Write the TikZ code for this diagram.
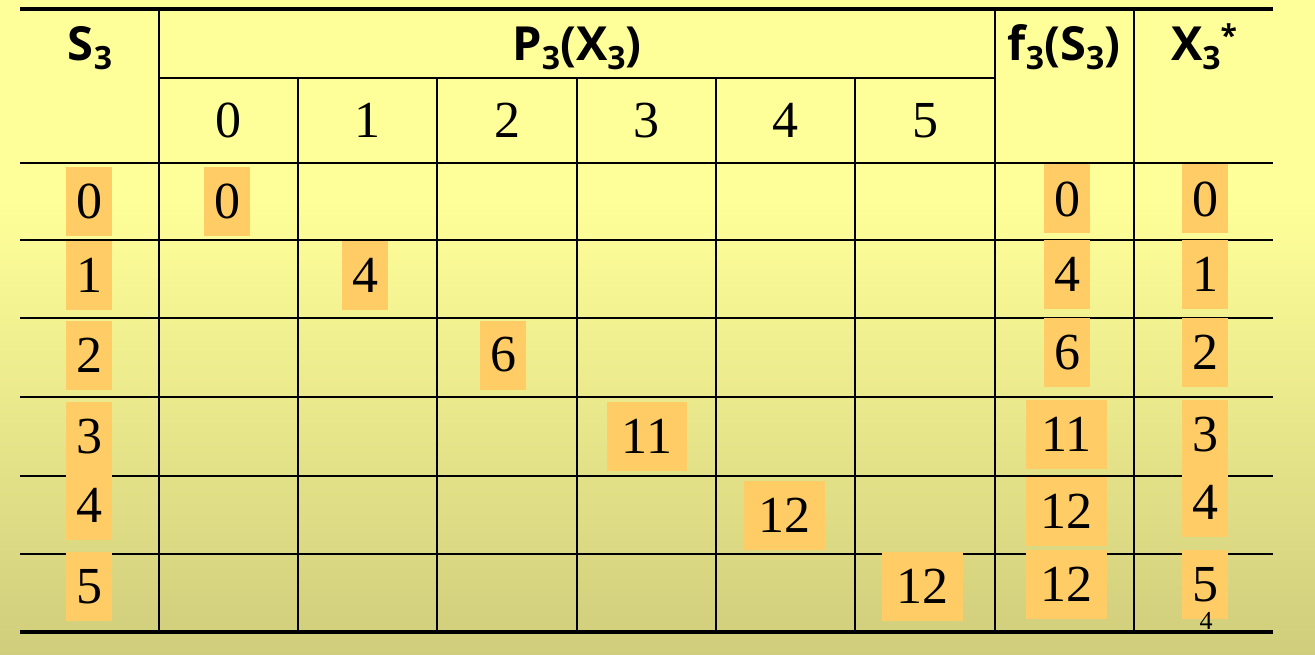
\documentclass[tikz,border=0pt]{standalone}
\usepackage{fontspec}
\setmainfont{Liberation Serif}
\newfontfamily\hdrfont{Open Sans}
\definecolor{bgtop}{HTML}{FFFF99}
\definecolor{bgbot}{HTML}{D0CD7C}
\definecolor{orangebox}{HTML}{FFCC66}
\newcommand{\mysubs}[1]{\raisebox{-9pt}{\fontsize{32}{32}\selectfont #1}}
\newcommand{\mysups}[1]{\raisebox{14pt}{\fontsize{30}{30}\selectfont #1}}
\begin{document}
\begin{tikzpicture}[x=1pt,y=-1pt,
  hdr/.style={anchor=base, inner sep=0pt, font=\hdrfont\bfseries\fontsize{47}{47}\selectfont},
  dig/.style={inner sep=0pt, font=\fontsize{52}{52}\selectfont},
  ob/.style={fill=orangebox, inner sep=0pt, minimum width=46pt, minimum height=69pt, font=\fontsize{52}{52}\selectfont},
  obw/.style={ob, minimum width=81pt},
  grid/.style={line width=1.8pt, black},
  thickline/.style={line width=3.5pt, black},
  bottomline/.style={line width=4.5pt, black}]
\useasboundingbox (0,0) rectangle (1315,655);
% background
\fill[bgtop] (0,0) rectangle (1315,655);
\shade[top color=bgtop, bottom color=bgbot] (0,200) rectangle (1315,655);
% lines
\draw[thickline] (20,9) -- (1273,9);
\draw[grid] (159,78) -- (995,78);
\foreach \yy in {163,240,318,397,476,554} {\draw[grid] (20,\yy) -- (1273,\yy);}
\foreach \xx in {159,995,1134} {\draw[grid] (\xx,9) -- (\xx,634);}
\foreach \xx in {298,437,577,716,855} {\draw[grid] (\xx,78) -- (\xx,634);}
\draw[bottomline] (20,632) -- (1273,632);
% headers
\node[hdr] (hs) at (90,61) {S\mysubs{3}};
\node[hdr] (hp) at (577,61) {P\mysubs{3}(X\mysubs{3})};
\node[hdr] (hf) at (1064,61) {f\mysubs{3}(S\mysubs{3})};
\node[hdr] (hx) at (1204,61) {X\mysubs{3}\mysups{*}};
% column numbers
\node[dig] (c0) at (228.5,120.5) {0};
\node[dig] (c1) at (367.5,120.5) {1};
\node[dig] (c2) at (507,120.5) {2};
\node[dig] (c3) at (646.5,120.5) {3};
\node[dig] (c4) at (785.5,120.5) {4};
\node[dig] (c5) at (925,120.5) {5};
% S3 column
\node[ob] (s0) at (89,201.5) {0};
\node[ob] (s1) at (89,275.5) {1};
\node[ob] (s2) at (89,355) {2};
\node[ob] (s3) at (89,436.5) {3};
\node[ob] (s4) at (89,505.5) {4};
\node[ob] (s5) at (89,586.5) {5};
% P3 values
\node[ob] (p0) at (227,201.5) {0};
\node[ob] (p1) at (365,275.5) {4};
\node[ob] (p2) at (503,355) {6};
\node[obw, minimum width=80pt] (p3) at (647,436.5) {11};
\node[obw] (p4) at (784.5,515.5) {12};
\node[obw] (p5) at (922.5,586.5) {12};
% f3 column
\node[ob] (f0) at (1067,199) {0};
\node[ob] (f1) at (1067,274.5) {4};
\node[ob] (f2) at (1067,352.5) {6};
\node[obw] (f3) at (1066.5,434.5) {11};
\node[obw] (f4) at (1066.5,511.5) {12};
\node[obw] (f5) at (1066.5,584.5) {12};
% X3* column
\node[ob] (x0) at (1205,199) {0};
\node[ob] (x1) at (1205,274.5) {1};
\node[ob] (x2) at (1205,352.5) {2};
\node[ob] (x3) at (1205,434.5) {3};
\node[ob] (x4) at (1205,502.5) {4};
\node[ob] (x5) at (1205,584.5) {5};
% page number
\node[inner sep=0pt, font=\fontsize{26}{26}\selectfont] (pg) at (1206,621) {4};
\end{tikzpicture}
\end{document}
